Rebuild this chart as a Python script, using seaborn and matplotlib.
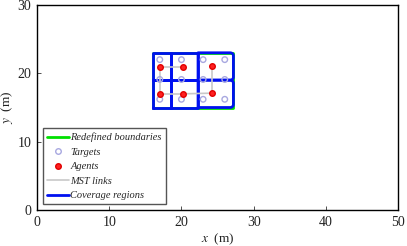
#!/usr/bin/env python3

import numpy as np
import seaborn as sns
import matplotlib.pyplot as plt
from matplotlib.lines import Line2D

# data
boundary_x = [16.0, 27.2]
boundary_y = [15.0, 23.0]
col_edges = [16.0, 18.6, 22.3, 27.2]
row_edges = [15.0, 19.0, 23.0]
target_x = [17.0, 20.0, 23.0, 26.0, 17.0, 20.0, 23.0, 26.0, 17.0, 20.0, 23.0, 26.0]
target_y = [22.0, 22.0, 22.0, 22.0, 19.1, 19.1, 19.1, 19.1, 16.2, 16.2, 16.2, 16.2]
agent_x = [17.0, 20.2, 24.3, 17.0, 20.2, 24.3]
agent_y = [20.9, 20.9, 21.0, 17.0, 17.0, 17.1]
mst_edges = [(0, 1), (0, 3), (3, 4), (4, 5), (2, 5)]


def cell_outline(x0, x1, y0, y1, rounded=False, r=0.45):
    if not rounded:
        return [x0, x1, x1, x0, x0], [y0, y0, y1, y1, y0]
    t1 = np.linspace(-np.pi / 2, 0, 8)
    t2 = np.linspace(0, np.pi / 2, 8)
    xs = [x0] + list(x1 - r + r * np.cos(t1)) + list(x1 - r + r * np.cos(t2)) + [x0, x0]
    ys = [y0] + list(y0 + r + r * np.sin(t1)) + list(y1 - r + r * np.sin(t2)) + [y1, y0]
    return xs, ys


def main():
    sns.set_style("ticks")
    plt.rcParams['font.family'] = ['Liberation Serif', 'DejaVu Serif']
    plt.rcParams['mathtext.fontset'] = 'stix'

    fig = plt.figure(figsize=(4.07, 2.46), dpi=100)
    ax = fig.add_axes([0.091, 0.146, 0.887, 0.834])

    # redefined boundary (mostly hidden under the cells)
    bx, by = cell_outline(boundary_x[0], boundary_x[1], boundary_y[0], boundary_y[1])
    ax.plot(bx, by, color='#00e000', lw=2, zorder=2)

    # coverage regions
    for i in range(len(col_edges) - 1):
        for j in range(len(row_edges) - 1):
            xs, ys = cell_outline(col_edges[i], col_edges[i + 1],
                                  row_edges[j], row_edges[j + 1],
                                  rounded=(i == len(col_edges) - 2))
            ax.plot(xs, ys, color='#0010f0', lw=2, zorder=3)

    # MST links
    for a, b in mst_edges:
        ax.plot([agent_x[a], agent_x[b]], [agent_y[a], agent_y[b]],
                color='#c8c8c8', lw=1.2, zorder=4)

    sns.scatterplot(x=target_x, y=target_y, ax=ax, marker='o', s=16,
                    facecolor='none', edgecolor='#a8a8e0', linewidth=1.0,
                    zorder=5)
    sns.scatterplot(x=agent_x, y=agent_y, ax=ax, marker='o', s=16,
                    color='#ff2020', edgecolor='#e00000', linewidth=1.0,
                    zorder=6)

    ax.set_xlim(0, 50)
    ax.set_ylim(0, 30)
    ax.set_xticks([0, 10, 20, 30, 40, 50])
    ax.set_yticks([0, 10, 20, 30])
    ax.tick_params(direction='in', labelsize=10, length=3, width=0.6,
                   colors='#333333', labelcolor='#222222', pad=4)
    for s in ax.spines.values():
        s.set_linewidth(1.0)
        s.set_color('black')
    ax.set_xlabel(r'$x$  (m)', fontsize=9.5, labelpad=2, color='#222222')
    ax.set_ylabel(r'$y$  (m)', fontsize=9.5, labelpad=2, color='#222222')

    handles = [
        Line2D([], [], color='#00e000', lw=2),
        Line2D([], [], ls='none', marker='o', ms=4, mfc='none', mec='#a8a8e0'),
        Line2D([], [], ls='none', marker='o', ms=4, mfc='#ff2020', mec='#e00000'),
        Line2D([], [], color='#c8c8c8', lw=1.2),
        Line2D([], [], color='#0010f0', lw=2),
    ]
    labels = ['Redefined boundaries', 'Targets', 'Agents', 'MST links',
              'Coverage regions']
    leg = ax.legend(handles, labels, loc='lower left', fancybox=False,
                    framealpha=1, edgecolor='#555555', handlelength=2.1,
                    handletextpad=0.15, borderpad=0.4, labelspacing=0.5,
                    borderaxespad=0.55, prop={'style': 'italic', 'size': 7.5})
    leg.get_frame().set_linewidth(1.0)

    plt.savefig('out.png', format='png', dpi=100)


if __name__ == '__main__':
    main()
